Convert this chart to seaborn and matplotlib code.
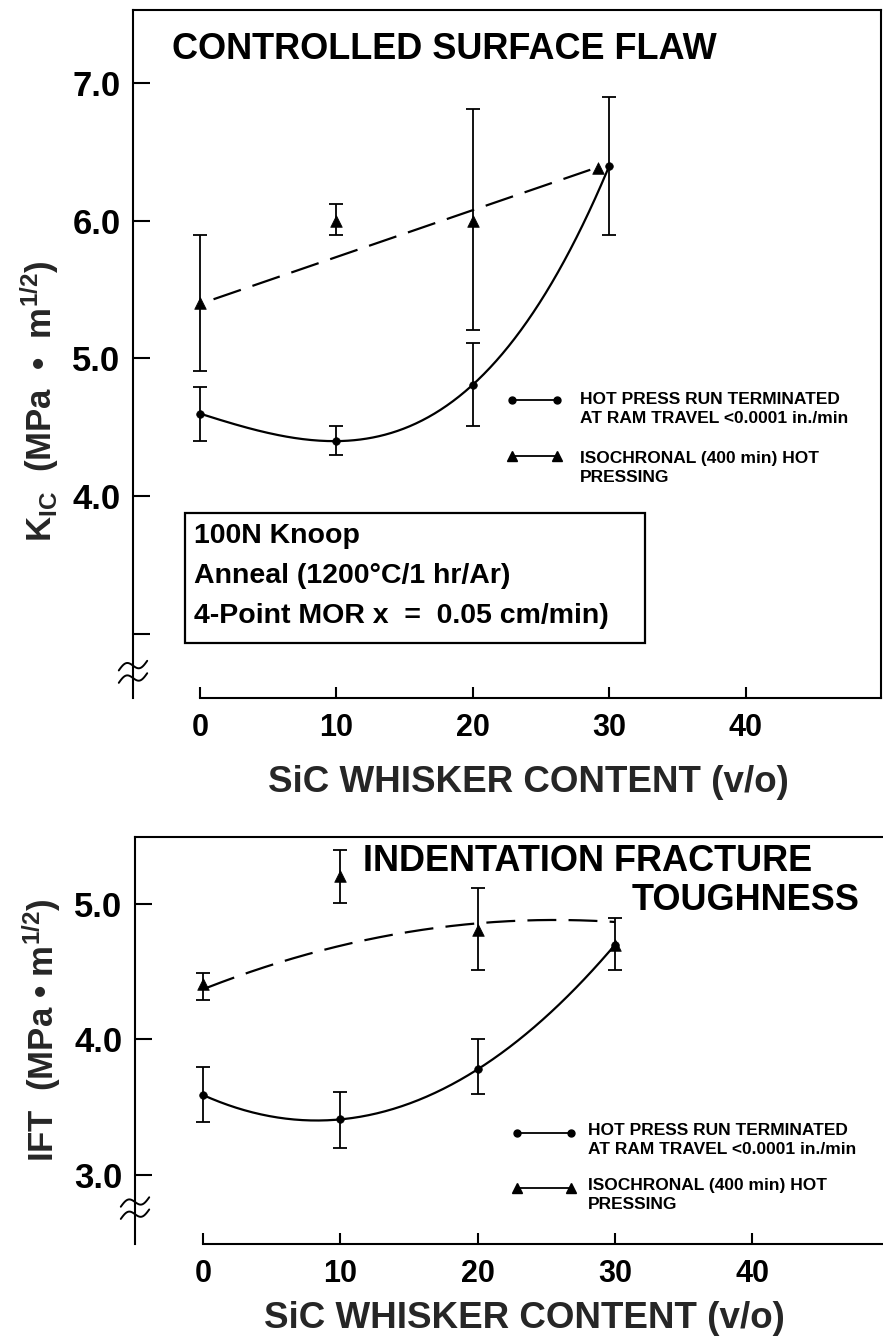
import numpy as np
import matplotlib
matplotlib.use("Agg")
import matplotlib.pyplot as plt
import seaborn as sns
from matplotlib.patches import Rectangle
from matplotlib.lines import Line2D
from matplotlib import font_manager
import matplotlib.transforms as mtrans

# ---------------- data ----------------
# Top panel: controlled surface flaw K_IC
top_x = [0, 10, 20, 30]
top_hp = [4.60, 4.40, 4.81, 6.40]
top_hp_lo = [4.40, 4.30, 4.51, 5.90]
top_hp_hi = [4.79, 4.51, 5.11, 6.90]
top_iso_x = [0, 10, 20, 29.2]
top_iso = [5.40, 6.00, 6.00, 6.38]
top_iso_lo = [4.91, 5.90, 5.21, np.nan]
top_iso_hi = [5.90, 6.12, 6.81, np.nan]
top_iso_fit_x = [1.0, 28.6]
top_iso_fit_y = [5.43, 6.37]

# Bottom panel: indentation fracture toughness IFT
bot_x = [0, 10, 20, 30]
bot_hp = [3.59, 3.41, 3.78, 4.70]
bot_hp_lo = [3.39, 3.20, 3.60, np.nan]
bot_hp_hi = [3.80, 3.61, 4.00, np.nan]
bot_iso = [4.41, 5.21, 4.81, 4.70]
bot_iso_lo = [4.29, 5.01, 4.51, 4.51]
bot_iso_hi = [4.49, 5.40, 5.12, 4.90]
bot_iso_fit_x = [0.3, 10, 20, 30]
bot_iso_fit_y = [4.38, 4.70, 4.85, 4.87]

xticks = [0, 10, 20, 30, 40]
xtick_labels = ["0", "10", "20", "30", "40"]
top_yticks = [3, 4, 5, 6, 7]
top_ytick_labels = ["", "4.0", "5.0", "6.0", "7.0"]
bot_yticks = [3, 4, 5]
bot_ytick_labels = ["3.0", "4.0", "5.0"]

leg_hp = "HOT PRESS RUN TERMINATED\nAT RAM TRAVEL <0.0001 in./min"
leg_iso = "ISOCHRONAL (400 min) HOT\nPRESSING"

# ---------------- style ----------------
sns.set_theme(style="white")
names = {f.name for f in font_manager.fontManager.ttflist}
NARROW = "Liberation Sans Narrow" if "Liberation Sans Narrow" in names else "Liberation Sans"
plt.rcParams["font.family"] = [NARROW, "Liberation Sans", "DejaVu Sans"]
plt.rcParams["font.weight"] = "bold"
plt.rcParams["mathtext.fontset"] = "custom"
plt.rcParams["mathtext.rm"] = "Liberation Sans:bold"
plt.rcParams["mathtext.bf"] = "Liberation Sans:bold"
plt.rcParams["mathtext.it"] = "Liberation Sans:bold"
plt.rcParams["text.color"] = "black"
plt.rcParams["axes.edgecolor"] = "black"

fig = plt.figure(figsize=(8.83, 13.39), dpi=100)
W, H = 883.0, 1339.0


def make_axes(left_px, right_px, top_px, bottom_px):
    return fig.add_axes([left_px / W, 1 - bottom_px / H,
                         (right_px - left_px) / W, (bottom_px - top_px) / H])


ax1 = make_axes(133, 881, 10, 698)
ax2 = make_axes(135, 883, 837, 1244)

LW = 1.6
DASH = (0, (13, 5.5))


def fit_curve(x, y, deg):
    xs = np.linspace(min(x), max(x), 200)
    return xs, np.polyval(np.polyfit(x, y, deg), xs)


def draw_series(ax, x, y, lo, hi, marker, size):
    y = np.asarray(y, float)
    lo = np.asarray(lo, float)
    hi = np.asarray(hi, float)
    ax.errorbar(x, y, yerr=[y - lo, hi - y], fmt="none", ecolor="black",
                elinewidth=1.3, capsize=5, capthick=1.3, zorder=3)
    sns.scatterplot(x=x, y=y, marker=marker, s=size, color="black",
                    edgecolor="black", linewidth=0.5, ax=ax, zorder=4, legend=False)


def style_axes(ax, ylim, xlim, yticks, ylabels, show_right):
    ax.set_xlim(*xlim)
    ax.set_ylim(*ylim)
    ax.set_xticks(xticks)
    ax.set_xticklabels(xtick_labels)
    ax.set_yticks(yticks)
    ax.set_yticklabels(ylabels)
    for s in ["left", "top", "bottom", "right"]:
        ax.spines[s].set_linewidth(1.5)
        ax.spines[s].set_color("black")
    ax.spines["right"].set_visible(show_right)
    ax.spines["bottom"].set_bounds(0, xlim[1])
    ax.tick_params(axis="y", direction="in", length=12, width=1.5,
                   labelsize=25, pad=9, left=True, colors="black")
    ax.tick_params(axis="x", direction="in", length=8, width=1.5,
                   labelsize=22, pad=11, bottom=True, colors="black")
    for t in ax.get_xticklabels() + ax.get_yticklabels():
        t.set_fontweight("bold")
    ax.grid(False)
    ax.set_facecolor("white")


def axis_break(ax, y0, dy):
    trans = mtrans.blended_transform_factory(ax.transAxes, ax.transData)
    t = np.linspace(0, 1, 40)
    for k in range(2):
        xs = -0.019 + 0.038 * t
        ys = y0 - k * dy + 0.035 * np.sin(2 * np.pi * t) + 0.07 * (t - 0.5)
        ax.plot(xs, ys, color="black", lw=1.4, transform=trans, clip_on=False, zorder=5)


def legend_entry(ax, x0, x1, y, marker, ms, text, tx, ty):
    ax.add_line(Line2D([x0, x1], [y, y], color="black", lw=1.3, marker=marker,
                       markersize=ms, transform=ax.transAxes))
    ax.text(tx, ty, text, transform=ax.transAxes, fontsize=12.5, fontweight="bold",
            va="center", ha="left", linespacing=1.3)


# ---------------- top panel ----------------
fx, fy = fit_curve(top_x, top_hp, 3)
sns.lineplot(x=fx, y=fy, color="black", lw=LW, ax=ax1, sort=False, estimator=None)
fx, fy = fit_curve(top_iso_fit_x, top_iso_fit_y, 1)
sns.lineplot(x=fx, y=fy, color="black", lw=LW, ax=ax1, sort=False, estimator=None,
             linestyle=DASH)
draw_series(ax1, top_x, top_hp, top_hp_lo, top_hp_hi, "o", 30)
draw_series(ax1, top_iso_x, top_iso, top_iso_lo, top_iso_hi, "^", 70)

style_axes(ax1, (2.535, 7.53), (-4.9, 49.9), top_yticks, top_ytick_labels, True)
axis_break(ax1, 2.77, 0.09)

ax1.text(0.052, 0.942, "CONTROLLED SURFACE FLAW", transform=ax1.transAxes,
         fontsize=26, fontweight="bold", va="center", ha="left")

ax1.set_xlabel("SiC WHISKER CONTENT (v/o)", fontsize=26.5, fontweight="bold")
ax1.xaxis.set_label_coords(0.528, -0.1235)
ax1.xaxis.label.set_va("center")
ax1.set_ylabel(r"K$_{\mathbf{IC}}$  (MPa  •  m$^{\mathbf{1/2}}$)", fontsize=25, fontweight="bold")
ax1.yaxis.set_label_coords(-0.125, 0.432)
ax1.yaxis.label.set_va("center")

legend_entry(ax1, 0.507, 0.567, 0.433, "o", 5, leg_hp, 0.598, 0.420)
legend_entry(ax1, 0.507, 0.567, 0.352, "^", 7, leg_iso, 0.598, 0.334)

ax1.add_patch(Rectangle((0.0695, 0.080), 0.615, 0.189, transform=ax1.transAxes,
                        fill=False, lw=1.6, edgecolor="black"))
for txt, yy in [("100N Knoop", 0.2355),
                ("Anneal (1200°C/1 hr/Ar)", 0.1773),
                ("4-Point MOR x  =  0.05 cm/min)", 0.1192)]:
    ax1.text(0.0816, yy, txt, transform=ax1.transAxes, fontsize=20.5,
             fontweight="bold", va="center", ha="left")

# ---------------- bottom panel ----------------
fx, fy = fit_curve(bot_x, bot_hp, 3)
sns.lineplot(x=fx, y=fy, color="black", lw=LW, ax=ax2, sort=False, estimator=None)
fx, fy = fit_curve(bot_iso_fit_x, bot_iso_fit_y, 2)
sns.lineplot(x=fx, y=fy, color="black", lw=LW, ax=ax2, sort=False, estimator=None,
             linestyle=DASH)
draw_series(ax2, bot_x, bot_hp, bot_hp_lo, bot_hp_hi, "o", 30)
draw_series(ax2, bot_x, bot_iso, bot_iso_lo, bot_iso_hi, "^", 70)

style_axes(ax2, (2.49, 5.495), (-4.95, 49.5), bot_yticks, bot_ytick_labels, False)
axis_break(ax2, 2.80, 0.09)

ax2.text(0.305, 0.9386, "INDENTATION FRACTURE", transform=ax2.transAxes,
         fontsize=26, fontweight="bold", va="center", ha="left")
ax2.text(0.968, 0.845, "TOUGHNESS", transform=ax2.transAxes,
         fontsize=26, fontweight="bold", va="center", ha="right")

ax2.set_xlabel("SiC WHISKER CONTENT (v/o)", fontsize=26.5, fontweight="bold")
ax2.xaxis.set_label_coords(0.521, -0.182)
ax2.xaxis.label.set_va("center")
ax2.set_ylabel(r"IFT  (MPa • m$^{\mathbf{1/2}}$)", fontsize=25, fontweight="bold")
ax2.yaxis.set_label_coords(-0.125, 0.526)
ax2.yaxis.label.set_va("center")

legend_entry(ax2, 0.511, 0.583, 0.273, "o", 5, leg_hp, 0.606, 0.2555)
legend_entry(ax2, 0.511, 0.583, 0.138, "^", 7, leg_iso, 0.606, 0.120)

fig.savefig("out.png", dpi=100, facecolor="white")
